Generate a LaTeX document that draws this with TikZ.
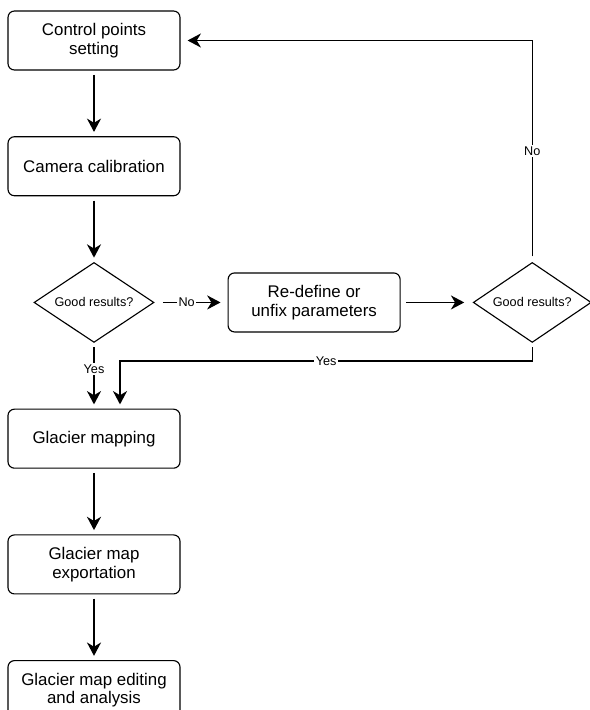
\documentclass[tikz,border=0pt]{standalone}
\usepackage{fontspec}
\setmainfont{Liberation Sans}
\usetikzlibrary{calc,positioning}
\usetikzlibrary{shapes,arrows.meta}

\begin{document}
\begin{tikzpicture}[inner sep=0.4mm,node distance=1.64cm,
  box/.style={draw,line width=0.8pt,rounded corners=1.6mm,minimum width=4.3cm,
    minimum height=1.475cm,align=center,font=\fontsize{12}{13.5}\selectfont},
  test/.style={draw,line width=0.8pt,diamond,aspect=1.5,minimum width=3cm,
    minimum height=2cm,inner sep=0pt,font=\fontsize{9}{11}\selectfont},
  lbl/.style={fill=white,inner sep=1pt,font=\fontsize{9}{11}\selectfont},
  flow/.style={line width=1pt,-{Stealth[length=9.5pt,width=10pt,inset=3pt]},
    shorten >=3pt,shorten <=3pt}]
\useasboundingbox (0,0) rectangle (14.75,-17.75);

% main column
\node [box] (ctrl) at (2.35,-1.0125) {Control points\\setting};
\node [box, below=of ctrl] (calib) {Camera calibration};
\node [test, below=of calib] (good1) {Good results?};
\node [box, below=of good1] (mapping) {Glacier mapping};
\node [box, below=of mapping] (export) {Glacier map\\exportation};
\node [box, below=of export] (edit) {Glacier map editing\\and analysis};

% re-definition loop
\node [box, right=1.825cm of good1] (redef) {Re-define or\\unfix parameters};
\node [test, right=1.8cm of redef, minimum width=2.95cm] (good2) {Good results?};

\draw [flow] (ctrl) -- (calib);
\draw [flow] (calib) -- (good1);
\draw [flow] (good1) -- node [lbl, pos=0.4] {Yes} (mapping);
\draw [flow] (mapping) -- (export);
\draw [flow] (export) -- (edit);

\draw [flow, shorten <=6pt, shorten >=5pt] (good1) -- node [lbl, pos=0.44] {No} (redef);
\draw [flow, shorten <=4pt, shorten >=6pt] (redef) -- (good2);
\draw [flow, shorten <=4pt, shorten >=5pt] (good2.north) -- node [lbl] {No} (good2.north |- ctrl) -- (ctrl);
\draw [flow] (good2.south) -- ++(0,-0.45) -| node [lbl, pos=0.25] {Yes} ([xshift=0.65cm]mapping.north);
\end{tikzpicture}
\end{document}
